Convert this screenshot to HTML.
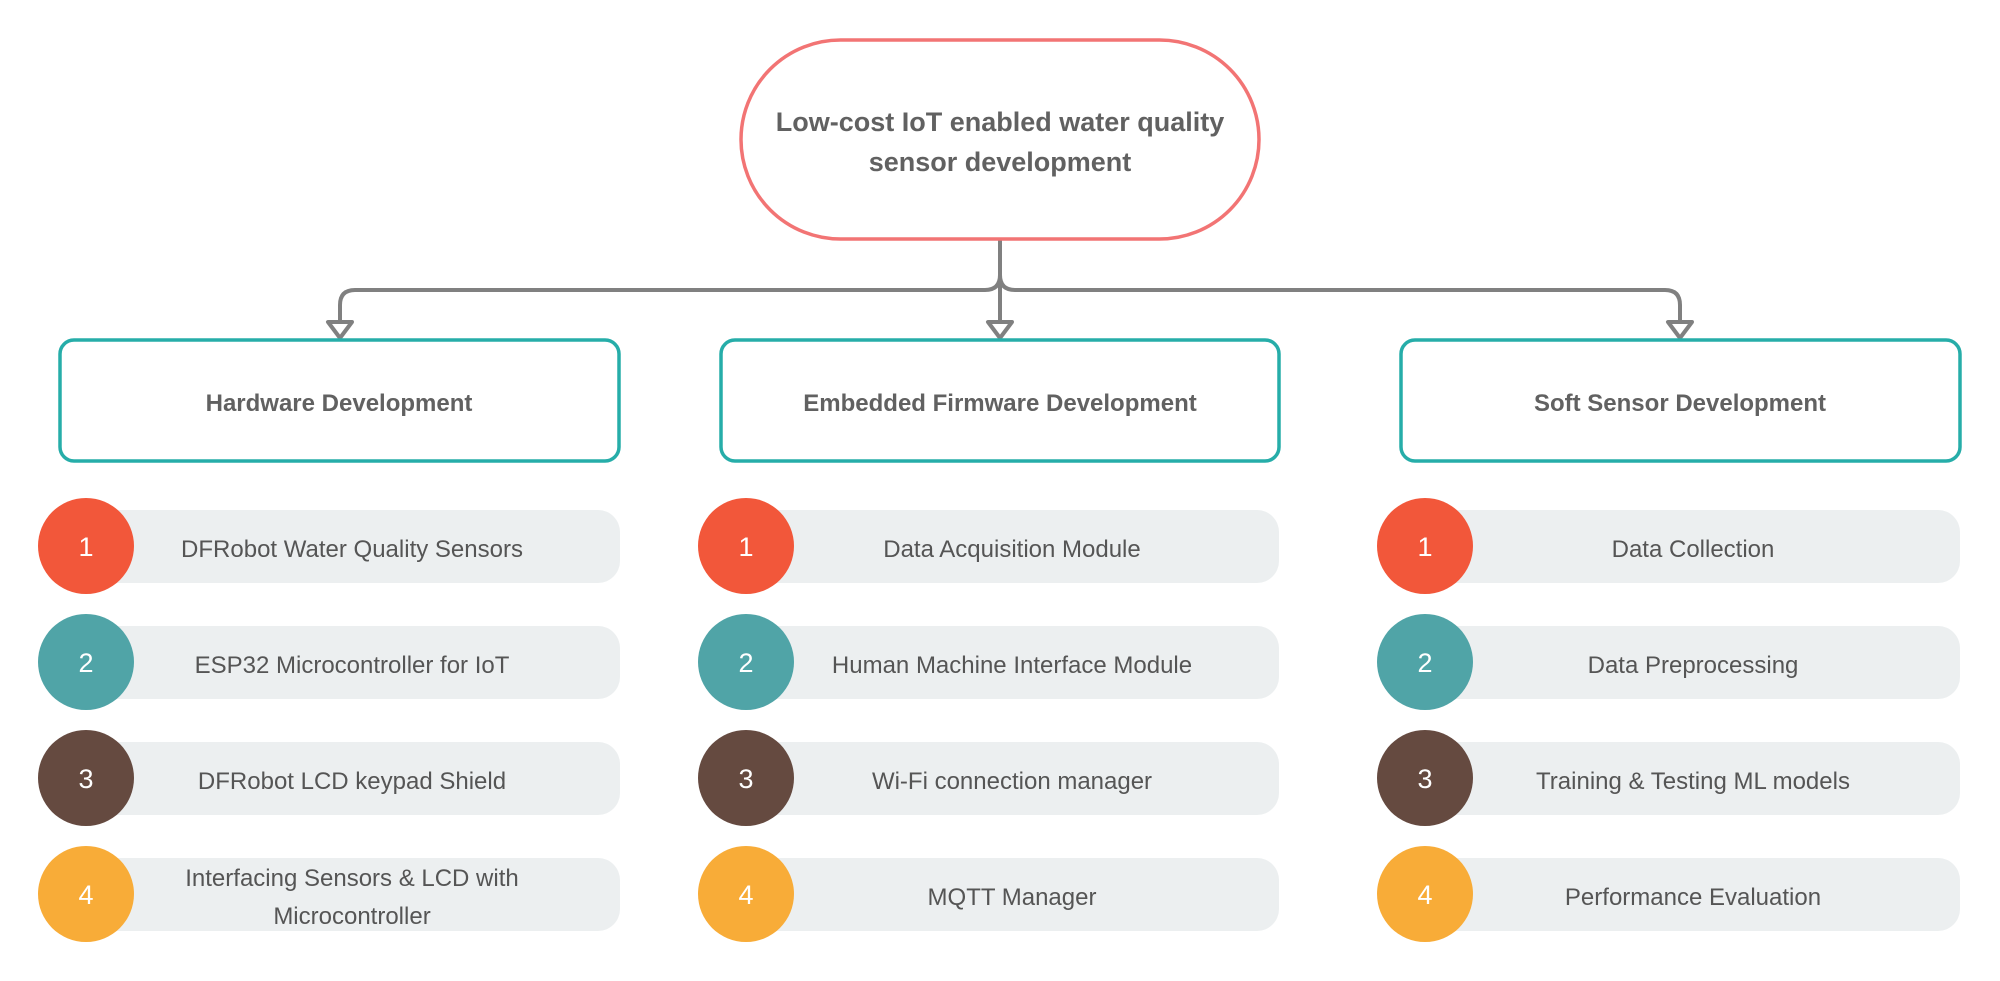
<!DOCTYPE html>
<html><head><meta charset="utf-8"><style>
html,body{margin:0;padding:0;background:#fff;}
svg{display:block;}
text{font-family:"Liberation Sans",sans-serif;}
</style></head><body>
<svg width="2000" height="981" viewBox="0 0 2000 981" xmlns="http://www.w3.org/2000/svg">
<rect width="2000" height="981" fill="#fff"/>
<g fill="none" stroke="#808080" stroke-width="4">
<path d="M1000 239 V275 Q1000 290 985 290 H355 Q340 290 340 305 V322"/>
<path d="M1000 275 Q1000 290 1015 290 H1665 Q1680 290 1680 305 V322"/>
<path d="M1000 239 V322"/>
</g>
<g fill="#fff" stroke="#808080" stroke-width="4" stroke-linejoin="round">
<path d="M328 322 H352 L340 338 Z"/>
<path d="M988 322 H1012 L1000 338 Z"/>
<path d="M1668 322 H1692 L1680 338 Z"/>
</g>
<rect x="741" y="40" width="518" height="199" rx="99.5" fill="#fff" stroke="#F27474" stroke-width="3.5"/>
<text x="1000" y="131" text-anchor="middle" font-size="27" font-weight="bold" fill="#616161">Low-cost IoT enabled water quality</text>
<text x="1000" y="171" text-anchor="middle" font-size="27" font-weight="bold" fill="#616161">sensor development</text>
<g fill="#fff" stroke="#26ADA9" stroke-width="3.5">
<rect x="60" y="340" width="559" height="121" rx="14"/>
<rect x="721" y="340" width="558" height="121" rx="14"/>
<rect x="1401" y="340" width="559" height="121" rx="14"/>
</g>
<g font-size="24" font-weight="bold" fill="#616161" text-anchor="middle">
<text x="339" y="411">Hardware Development</text>
<text x="1000" y="411">Embedded Firmware Development</text>
<text x="1680" y="411">Soft Sensor Development</text>
</g>
<g fill="#ECEFF0">
<rect x="84" y="510" width="536" height="73" rx="22"/><rect x="84" y="626" width="536" height="73" rx="22"/><rect x="84" y="742" width="536" height="73" rx="22"/><rect x="84" y="858" width="536" height="73" rx="22"/>
<rect x="745" y="510" width="534" height="73" rx="22"/><rect x="745" y="626" width="534" height="73" rx="22"/><rect x="745" y="742" width="534" height="73" rx="22"/><rect x="745" y="858" width="534" height="73" rx="22"/>
<rect x="1425" y="510" width="535" height="73" rx="22"/><rect x="1425" y="626" width="535" height="73" rx="22"/><rect x="1425" y="742" width="535" height="73" rx="22"/><rect x="1425" y="858" width="535" height="73" rx="22"/>
</g>
<g>
<circle cx="86" cy="546" r="48" fill="#F2573A"/><circle cx="86" cy="662" r="48" fill="#50A4A7"/><circle cx="86" cy="778" r="48" fill="#654A40"/><circle cx="86" cy="894" r="48" fill="#F8AC38"/>
<circle cx="746" cy="546" r="48" fill="#F2573A"/><circle cx="746" cy="662" r="48" fill="#50A4A7"/><circle cx="746" cy="778" r="48" fill="#654A40"/><circle cx="746" cy="894" r="48" fill="#F8AC38"/>
<circle cx="1425" cy="546" r="48" fill="#F2573A"/><circle cx="1425" cy="662" r="48" fill="#50A4A7"/><circle cx="1425" cy="778" r="48" fill="#654A40"/><circle cx="1425" cy="894" r="48" fill="#F8AC38"/>
</g>
<g font-size="27" fill="#fff" text-anchor="middle">
<text x="86" y="556">1</text><text x="86" y="672">2</text><text x="86" y="788">3</text><text x="86" y="904">4</text>
<text x="746" y="556">1</text><text x="746" y="672">2</text><text x="746" y="788">3</text><text x="746" y="904">4</text>
<text x="1425" y="556">1</text><text x="1425" y="672">2</text><text x="1425" y="788">3</text><text x="1425" y="904">4</text>
</g>
<g font-size="24" fill="#555" text-anchor="middle">
<text x="352" y="557">DFRobot Water Quality Sensors</text>
<text x="352" y="673">ESP32 Microcontroller for IoT</text>
<text x="352" y="789">DFRobot LCD keypad Shield</text>
<text x="352" y="886">Interfacing Sensors &amp; LCD with</text>
<text x="352" y="924">Microcontroller</text>
<text x="1012" y="557">Data Acquisition Module</text>
<text x="1012" y="673">Human Machine Interface Module</text>
<text x="1012" y="789">Wi-Fi connection manager</text>
<text x="1012" y="905">MQTT Manager</text>
<text x="1693" y="557">Data Collection</text>
<text x="1693" y="673">Data Preprocessing</text>
<text x="1693" y="789">Training &amp; Testing ML models</text>
<text x="1693" y="905">Performance Evaluation</text>
</g>
</svg>
</body></html>
